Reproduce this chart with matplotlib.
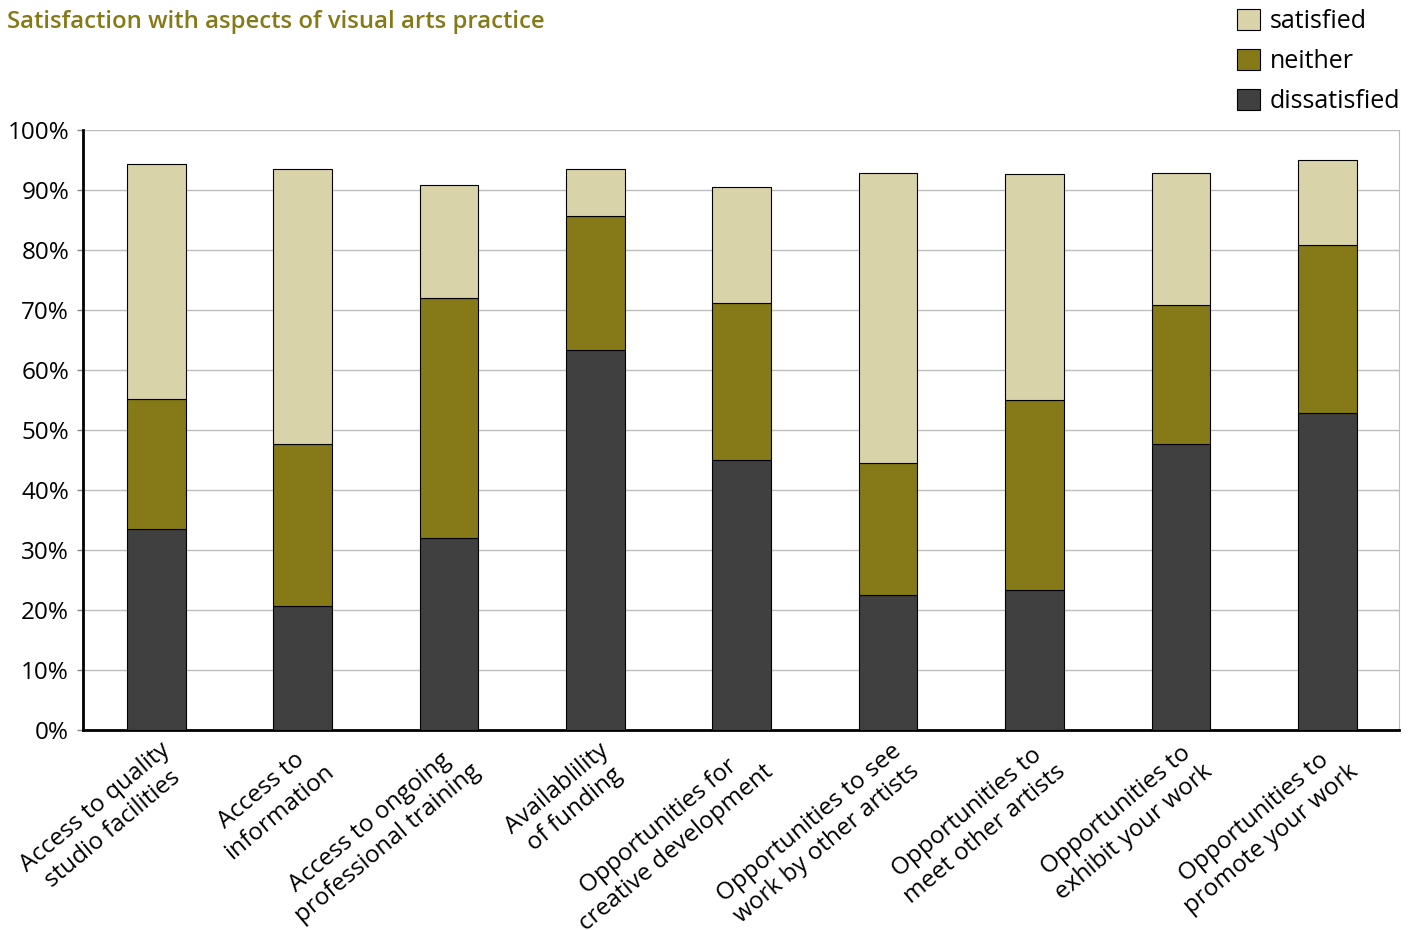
import matplotlib
matplotlib.use("Agg")
import matplotlib.pyplot as plt
from matplotlib.patches import Patch
from matplotlib.transforms import ScaledTranslation
import numpy as np

plt.rcParams["font.family"] = ["Open Sans", "DejaVu Sans"]

categories = [
    "Access to quality\nstudio facilities",
    "Access to\ninformation",
    "Access to ongoing\nprofessional training",
    "Availablility\nof funding",
    "Opportunities for\ncreative development",
    "Opportunities to see\nwork by other artists",
    "Opportunities to\nmeet other artists",
    "Opportunities to\nexhibit your work",
    "Opportunities to\npromote your work",
]
dissatisfied = [33.5, 20.7, 32.0, 63.4, 45.0, 22.5, 23.3, 47.7, 52.8]
neither = [21.7, 27.0, 40.0, 22.3, 26.2, 22.0, 31.7, 23.1, 28.0]
satisfied = [39.1, 45.8, 18.8, 7.8, 19.3, 48.3, 37.7, 22.0, 14.2]
yticks = list(range(0, 101, 10))
ytick_labels = [f"{v}%" for v in yticks]

C_SAT = "#d8d3a9"
C_NEI = "#857a17"
C_DIS = "#404040"
TITLE_C = "#857a17"

fig = plt.figure(figsize=(14.17, 9.30), dpi=100)
ax = fig.add_axes([0.0586, 0.215, 0.9287, 0.645])

x = np.arange(len(categories))
w = 0.40
d = np.array(dissatisfied)
n = np.array(neither)
s = np.array(satisfied)
ax.bar(x, d, w, color=C_DIS, edgecolor="black", linewidth=0.8, zorder=3)
ax.bar(x, n, w, bottom=d, color=C_NEI, edgecolor="black", linewidth=0.8, zorder=3)
ax.bar(x, s, w, bottom=d + n, color=C_SAT, edgecolor="black", linewidth=0.8, zorder=3)

ax.set_xlim(-0.5, 8.49)
ax.set_ylim(0, 100)
ax.set_yticks(yticks)
ax.set_yticklabels(ytick_labels, fontsize=17.5)
ax.yaxis.grid(True, color="#bdbdbd", linewidth=1, zorder=0)
ax.tick_params(axis="y", length=4, width=1, pad=6, color="#888888")
ax.tick_params(axis="x", length=0, pad=6)

# rotated, two-line category labels anchored just right of each bar centre
ax.set_xticks(x)
ax.set_xticklabels(categories, fontsize=17.5, rotation=40, ha="right",
                   va="top", rotation_mode="anchor", multialignment="center")
offset = ScaledTranslation(0.03, 0.0, fig.dpi_scale_trans)
for lbl in ax.get_xticklabels():
    lbl.set_transform(lbl.get_transform() + offset)

ax.spines["top"].set_visible(False)
ax.spines["right"].set_color("#bdbdbd")
ax.spines["left"].set_linewidth(2)
ax.spines["bottom"].set_linewidth(2)

fig.text(0.005, 0.976, "Satisfaction with aspects of visual arts practice",
         fontsize=17.2, fontweight="semibold", color=TITLE_C, va="center", ha="left")

handles = [Patch(facecolor=C_SAT, edgecolor="black", linewidth=0.8),
           Patch(facecolor=C_NEI, edgecolor="black", linewidth=0.8),
           Patch(facecolor=C_DIS, edgecolor="black", linewidth=0.8)]
fig.legend(handles, ["satisfied", "neither", "dissatisfied"], loc="upper right",
           bbox_to_anchor=(1.004, 1.014), frameon=False, fontsize=18,
           handlelength=0.9, handleheight=0.9, handletextpad=0.4,
           labelspacing=0.6)

fig.savefig("out.png", dpi=100)
